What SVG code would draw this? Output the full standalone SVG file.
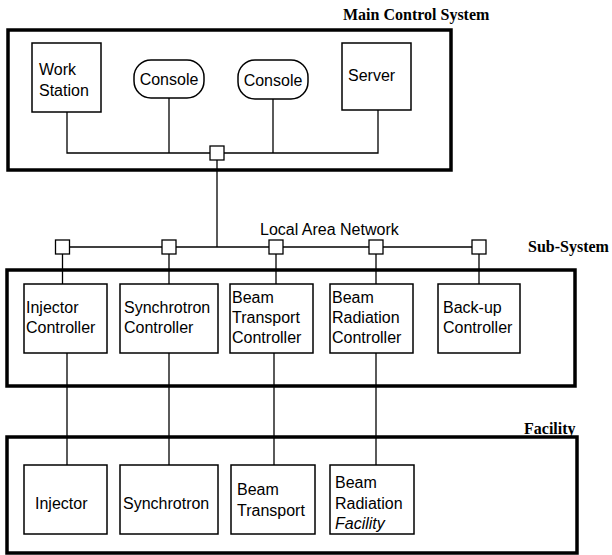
<svg xmlns="http://www.w3.org/2000/svg" width="612" height="555" viewBox="0 0 612 555">
<style>
.frame{fill:none;stroke:#000;stroke-width:3.5}
.box{fill:#fff;stroke:#000;stroke-width:1.5}
.sq{fill:#fff;stroke:#000;stroke-width:1.3}
.wire{fill:none;stroke:#000;stroke-width:1.3}
.t{font-family:"Liberation Sans",Arial,sans-serif;font-size:16px;fill:#000}
.ti{font-family:"Liberation Sans",Arial,sans-serif;font-size:16px;font-style:italic;fill:#000}
.h{font-family:"Liberation Serif","Times New Roman",serif;font-size:16px;font-weight:bold;fill:#000}
</style>
<rect width="612" height="555" fill="#fff"/>

<g id="main-control-system">
<rect class="frame" x="8" y="30" width="443" height="140"/>
<text class="h" x="343" y="20">Main Control System</text>
</g>
<g id="sub-system">
<rect class="frame" x="7" y="270" width="568" height="116"/>
<text class="h" x="528" y="252">Sub-System</text>
</g>
<g id="facility">
<rect class="frame" x="7" y="437" width="570" height="116"/>
<text class="h" x="524" y="434">Facility</text>
</g>

<g id="connectors">
<polyline class="wire" points="67,112 67,153 378,153 378,110"/>
<line class="wire" x1="169" y1="98" x2="169" y2="153"/>
<line class="wire" x1="273" y1="99" x2="273" y2="153"/>
<line class="wire" x1="217" y1="160" x2="217" y2="247"/>
<line class="wire" x1="62.5" y1="247" x2="479" y2="247"/>
<line class="wire" x1="62.5" y1="254" x2="62.5" y2="284"/>
<line class="wire" x1="169" y1="254" x2="169" y2="284"/>
<line class="wire" x1="276" y1="254" x2="276" y2="284"/>
<line class="wire" x1="376" y1="254" x2="376" y2="284"/>
<line class="wire" x1="479" y1="254" x2="479" y2="284"/>
<line class="wire" x1="67" y1="353" x2="67" y2="465"/>
<line class="wire" x1="169" y1="353" x2="169" y2="465"/>
<line class="wire" x1="274" y1="353" x2="274" y2="465"/>
<line class="wire" x1="376" y1="353" x2="376" y2="465"/>
</g>

<g id="hub-main"><rect class="sq" x="210" y="146" width="14" height="14"/></g>
<g id="lan">
<text class="t" x="260" y="235">Local Area Network</text>
</g>
<g id="lan-node-1"><rect class="sq" x="55.5" y="240" width="14" height="14"/></g>
<g id="lan-node-2"><rect class="sq" x="162" y="240" width="14" height="14"/></g>
<g id="lan-node-3"><rect class="sq" x="269" y="240" width="14" height="14"/></g>
<g id="lan-node-4"><rect class="sq" x="369" y="240" width="14" height="14"/></g>
<g id="lan-node-5"><rect class="sq" x="472" y="240" width="14" height="14"/></g>

<g id="work-station">
<rect class="box" x="32" y="43" width="69" height="69"/>
<text class="t" x="39" y="75">Work</text>
<text class="t" x="39" y="96">Station</text>
</g>
<g id="console-1">
<rect class="box" x="134" y="60" width="70" height="38" rx="17"/>
<text class="t" x="169" y="85" text-anchor="middle">Console</text>
</g>
<g id="console-2">
<rect class="box" x="238" y="60" width="70" height="39" rx="17"/>
<text class="t" x="273" y="86" text-anchor="middle">Console</text>
</g>
<g id="server">
<rect class="box" x="342" y="43" width="69" height="67"/>
<text class="t" x="348" y="81">Server</text>
</g>

<g id="injector-controller">
<rect class="box" x="24" y="284" width="83" height="69"/>
<text class="t" x="26" y="313">Injector</text>
<text class="t" x="26" y="333">Controller</text>
</g>
<g id="synchrotron-controller">
<rect class="box" x="120" y="284" width="98" height="69"/>
<text class="t" x="124" y="313">Synchrotron</text>
<text class="t" x="124" y="333">Controller</text>
</g>
<g id="beam-transport-controller">
<rect class="box" x="230" y="284" width="83" height="69"/>
<text class="t" x="232" y="303">Beam</text>
<text class="t" x="232" y="323">Transport</text>
<text class="t" x="232" y="343">Controller</text>
</g>
<g id="beam-radiation-controller">
<rect class="box" x="330" y="284" width="83" height="69"/>
<text class="t" x="332" y="303">Beam</text>
<text class="t" x="332" y="323">Radiation</text>
<text class="t" x="332" y="343">Controller</text>
</g>
<g id="backup-controller">
<rect class="box" x="438" y="284" width="82" height="69"/>
<text class="t" x="443" y="313">Back-up</text>
<text class="t" x="443" y="333">Controller</text>
</g>

<g id="injector">
<rect class="box" x="24" y="465" width="83" height="69"/>
<text class="t" x="35" y="509">Injector</text>
</g>
<g id="synchrotron">
<rect class="box" x="120" y="465" width="98" height="69"/>
<text class="t" x="123" y="509">Synchrotron</text>
</g>
<g id="beam-transport">
<rect class="box" x="231" y="465" width="84" height="69"/>
<text class="t" x="237" y="495">Beam</text>
<text class="t" x="237" y="516">Transport</text>
</g>
<g id="beam-radiation-facility">
<rect class="box" x="330" y="465" width="84" height="69"/>
<text class="t" x="335" y="488">Beam</text>
<text class="t" x="335" y="509">Radiation</text>
<text class="ti" x="335" y="529">Facility</text>
</g>
</svg>
